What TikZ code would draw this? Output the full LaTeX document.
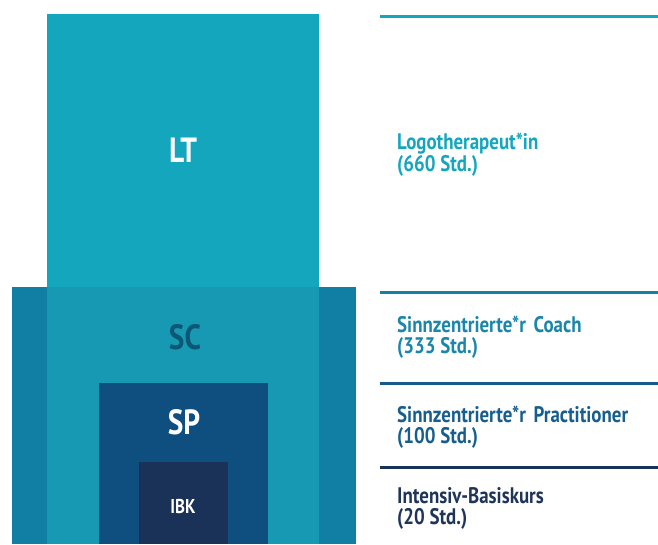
\documentclass[tikz,border=0pt]{standalone}
\usepackage{fontspec}
\setmainfont{PT Sans}[FakeStretch=0.84]
\definecolor{ltfill}{HTML}{13A6BD}
\definecolor{scmid}{HTML}{1799B4}
\definecolor{scside}{HTML}{117FA3}
\definecolor{sctext}{HTML}{0D5776}
\definecolor{spfill}{HTML}{0F4F7F}
\definecolor{ibkfill}{HTML}{1B3258}
\definecolor{linetwo}{HTML}{1580A6}
\definecolor{linethree}{HTML}{175A8C}
\definecolor{labcoach}{HTML}{1A86AA}
\definecolor{labprac}{HTML}{175E8E}
\definecolor{labibk}{HTML}{1E3459}
\tikzset{
  box/.style={draw=none, inner sep=0pt, outer sep=0pt},
  bigtxt/.style={font=\bfseries\fontsize{35}{35}\selectfont, inner sep=0pt},
  smalltxt/.style={font=\bfseries\fontsize{20}{20}\selectfont, inner sep=0pt},
  lab/.style={font=\bfseries\fontsize{22.5}{24}\selectfont, inner sep=0pt, anchor=base west},
  sep/.style={line width=3pt}
}
\begin{document}
\begin{tikzpicture}[x=1pt,y=-1pt]
\useasboundingbox (0,0) rectangle (658,544);
% boxes
\fill[ltfill] (47,14) rectangle (319,287);
\fill[scside] (12,287) rectangle (356,544);
\fill[scmid] (47,287) rectangle (319,544);
\fill[spfill] (98.5,382.5) rectangle (268,544);
\fill[ibkfill] (139,462) rectangle (227.5,544);
% box labels
\node[bigtxt, text=white] (LT) at (183,150) {LT};
\node[bigtxt, text=sctext] (SC) at (185,337) {SC};
\node[bigtxt, text=white] (SP) at (184,422) {SP};
\node[smalltxt, text=white] (IBK) at (183,506) {IBK};
% separator lines
\coordinate (l1a) at (380,16);  \coordinate (l1b) at (658,16);
\coordinate (l2a) at (380,292); \coordinate (l2b) at (658,292);
\coordinate (l3a) at (380,383); \coordinate (l3b) at (658,383);
\coordinate (l4a) at (380,467); \coordinate (l4b) at (658,467);
\draw[sep, ltfill] (l1a) -- (l1b);
\draw[sep, linetwo] (l2a) -- (l2b);
\draw[sep, linethree] (l3a) -- (l3b);
\draw[sep, ibkfill] (l4a) -- (l4b);
% right labels
\node[lab, text=ltfill] (t1a) at (397,149) {Logotherapeut*in};
\node[lab, text=ltfill] (t1b) at (397,171) {(660 Std.)};
\node[lab, text=labcoach] (t2a) at (397,332) {Sinnzentrierte*r\hspace{3pt} Coach};
\node[lab, text=labcoach] (t2b) at (397,353) {(333 Std.)};
\node[lab, text=labprac] (t3a) at (397,422) {Sinnzentrierte*r\hspace{3pt} Practitioner};
\node[lab, text=labprac] (t3b) at (397,443) {(100 Std.)};
\node[lab, text=labibk] (t4a) at (397,503) {Intensiv-Basiskurs};
\node[lab, text=labibk] (t4b) at (397,524) {(20 Std.)};
\end{tikzpicture}
\end{document}
